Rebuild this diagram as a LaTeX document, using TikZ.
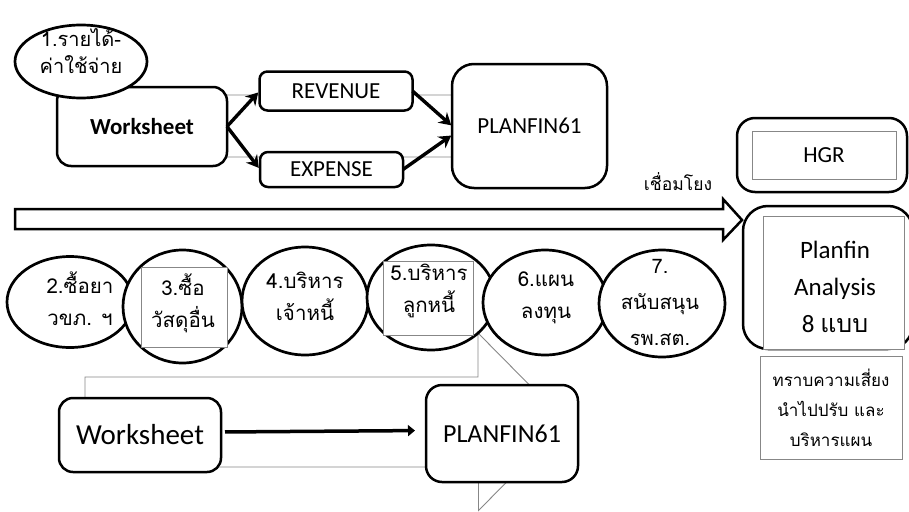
\documentclass[tikz,border=0pt]{standalone}
\usepackage{fontspec}
\setmainfont{Carlito}
\newfontfamily\thai[Script=Thai]{Loma}
\usetikzlibrary{arrows.meta,shapes.geometric,calc}
\definecolor{gline}{RGB}{135,135,135}
\begin{document}
\begin{tikzpicture}[x=1pt,y=-1pt,
  box/.style={draw=black, line width=2.5pt, fill=white, inner sep=0pt, outer sep=0pt, rounded corners=#1},
  box/.default=12pt,
  gbox/.style={draw=gline, line width=0.9pt, fill=white, inner sep=0pt, outer sep=0pt},
  ell/.style={ellipse, draw=black, line width=2.7pt, fill=white, inner sep=0pt, outer sep=0pt},
  ttxt/.style={align=center, inner sep=0pt, font={\thai\fontsize{20.5}{32}\selectfont}},
  ltxt/.style={inner sep=0pt, font={\fontsize{23}{28}\selectfont}},
  thk/.style={line width=3.4pt, -{Stealth[length=12pt,width=14pt,inset=4pt]}},
  garrow/.style={draw=gline, line width=0.9pt, line join=miter},
]
\useasboundingbox (0,0) rectangle (909,511);
\fill[white] (0,0) rectangle (909,511);

% gray background process arrows
\draw[garrow] (100,95) -- (470,95) -- (470,70) -- (560,126) -- (470,182) -- (470,157) -- (100,157) -- cycle;
\draw[garrow] (85,377) -- (478,377) -- (478,333) -- (566,422) -- (478.5,510.5) -- (478.5,467) -- (85,467) -- cycle;

% top flow
\node[box=14pt, minimum width=170pt, minimum height=79pt, font={\bfseries\fontsize{23}{28}\selectfont}] (ws1) at (142,126.5) {Worksheet};
\node[ell, minimum width=132pt, minimum height=73pt] (e1) at (81,61.5) {};
\node[ttxt, font={\thai\fontsize{20}{27}\selectfont}] (t1) at (81,51) {1.รายได้-\\ค่าใช้จ่าย};
\node[box=8pt, minimum width=153pt, minimum height=39pt, ltxt] (rev) at (336,91) {REVENUE};
\node[box=8pt, minimum width=143pt, minimum height=35pt, ltxt] (exp) at (331.5,169.5) {EXPENSE};
\node[box=22pt, minimum width=155pt, minimum height=124pt, ltxt] (pf1) at (529.5,126) {PLANFIN61};

\draw[thk, shorten >=2pt] (ws1.east) -- (rev.west);
\draw[thk, shorten >=2pt] (ws1.east) -- (exp.west);
\draw[thk, shorten >=1pt] (rev.east) -- (pf1.west);
\draw[thk, shorten >=1pt] (exp.east) -- ([yshift=-9pt]pf1.west);

% big link arrow
\draw[line width=2.5pt, fill=white, line join=miter] (15,209) -- (723,209) -- (723,199) -- (742,220) -- (723,240) -- (723,229) -- (15,229) -- cycle;
\node[ttxt, font={\thai\fontsize{17.5}{30}\selectfont}] (link) at (678,182) {เชื่อมโยง};

% right column
\node[box=18pt, minimum width=170pt, minimum height=74pt] (hgr) at (822,155) {};
\node[gbox, minimum width=144pt, minimum height=48pt, ltxt] (hgrin) at (824,155) {HGR};
\node[box=25pt, minimum width=170pt, minimum height=143pt] (pfa) at (828,277.5) {};
\node[gbox, minimum width=141pt, minimum height=133pt] (pfain) at (833.5,282.5) {};
\node[align=center, inner sep=0pt, font={\fontsize{25}{37}\selectfont}] (pfatxt) at (835,287) {Planfin\\Analysis\\8 {\thai แบบ}};
\node[gbox, minimum width=142pt, minimum height=103pt, align=center, font={\thai\fontsize{17}{30}\selectfont}] (risk) at (831,407.5) {ทราบความเสี่ยง\\นำไปปรับ และ\\บริหารแผน};

% ellipse row
\node[ell, minimum width=126pt, minimum height=91pt] (e2) at (70,302) {};
\node[ell, minimum width=119pt, minimum height=113pt] (e3) at (182.5,306.5) {};
\node[ell, minimum width=126pt, minimum height=108pt] (e4) at (305,301) {};
\node[ell, minimum width=128pt, minimum height=105pt] (e5) at (431,297.5) {};
\node[ell, minimum width=124pt, minimum height=105pt] (e6) at (545,302.5) {};
\node[ell, minimum width=126pt, minimum height=107pt] (e7) at (662,303.5) {};
\node[gbox, minimum width=86pt, minimum height=80pt] (r3) at (184,307) {};
\node[gbox, minimum width=90pt, minimum height=74pt] (r5) at (428,298) {};
\node[ttxt] (t2) at (80,299) {2.ซื้อยา\\วขภ. ฯ};
\node[ttxt] (t3) at (183,303) {3.ซื้อ\\วัสดุอื่น};
\node[ttxt] (t4) at (305,296) {4.บริหาร\\เจ้าหนี้};
\node[ttxt] (t5) at (429,291) {5.บริหาร\\ลูกหนี้};
\node[ttxt] (t6) at (546,298) {6.แผน\\ลงทุน};
\node[ttxt, font={\thai\fontsize{20}{36}\selectfont}] (t7) at (660,302) {7.\\สนับสนุน\\รพ.สต.};

% bottom flow
\node[box=14pt, minimum width=162pt, minimum height=74pt, font={\fontsize{29}{34}\selectfont}] (ws2) at (140,435) {Worksheet};
\node[box=16pt, minimum width=152pt, minimum height=97pt, font={\fontsize{26}{30}\selectfont}] (pf2) at (502,433.5) {PLANFIN61};
\draw[line width=3.5pt, -{Triangle[length=7pt,width=11pt]}, shorten <=4pt, shorten >=11pt] ([yshift=3pt]ws2.east) -- ([yshift=3pt]pf2.west);
\end{tikzpicture}
\end{document}
